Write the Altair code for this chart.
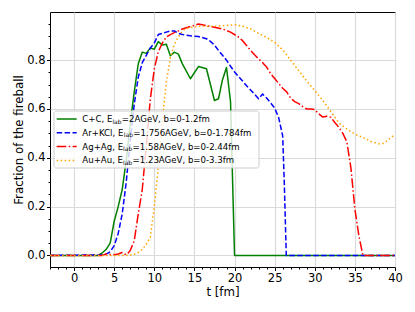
import altair as alt
import pandas as pd

# ---------------- data ----------------
cc_t = [-3, 3.0, 3.5, 4.0, 4.5, 5.0, 5.5, 6.0, 6.5, 7.0, 7.5, 8.0, 8.5, 9.0, 9.5, 10.0,
        10.5, 11.0, 11.5, 12.0, 12.5, 13.0, 13.5, 14.5, 15.5, 16.5, 17.5, 18.0, 18.5,
        19.0, 19.5, 20.0, 40]
cc_v = [0, 0, 0.01, 0.025, 0.05, 0.14, 0.2, 0.27, 0.39, 0.54, 0.67, 0.785, 0.833, 0.828,
        0.85, 0.845, 0.876, 0.862, 0.865, 0.818, 0.833, 0.825, 0.785, 0.724, 0.774, 0.765,
        0.635, 0.642, 0.72, 0.77, 0.63, 0, 0]

ar_t = [-3, 3.5, 4.0, 4.5, 5.0, 5.5, 6.0, 6.5, 7.0, 7.5, 8.0, 8.5, 9.0, 9.5, 10.0, 10.5,
        11.0, 11.5, 12.0, 12.5, 13.0, 13.5, 14.5, 15.5, 16.5, 17.0, 17.5, 18.0, 18.5, 19.0,
        19.5, 20.0, 20.5, 21.0, 21.5, 22.0, 22.5, 23.0, 23.5, 24.0, 24.5, 25.0, 25.5, 26.0,
        26.2, 26.45, 40]
ar_v = [0, 0.002, 0.005, 0.015, 0.04, 0.09, 0.17, 0.3, 0.47, 0.62, 0.73, 0.79, 0.82, 0.85,
        0.87, 0.905, 0.91, 0.915, 0.92, 0.92, 0.91, 0.905, 0.9, 0.897, 0.888, 0.877, 0.862,
        0.84, 0.82, 0.8, 0.775, 0.752, 0.733, 0.715, 0.695, 0.678, 0.66, 0.642, 0.661,
        0.645, 0.625, 0.604, 0.565, 0.49, 0.3, 0, 0]

ag_t = [-3, 3.5, 4.0, 4.5, 5.0, 5.5, 6.0, 6.3, 6.6, 7.0, 7.5, 8.0, 8.5, 9.0, 9.5, 10.0,
        10.5, 11.0, 11.5, 12.0, 12.5, 13.0, 13.5, 14.5, 15.5, 16.5, 17.5, 18.5, 19.5, 20.5,
        21.0, 21.5, 22.0, 22.5, 23.0, 23.5, 24.0, 24.5, 25.0, 25.5, 26.0, 26.5, 27.0, 27.5,
        28.0, 28.5, 29.0, 29.5, 30.0, 30.5, 31.0, 31.5, 32.0, 32.5, 33.0, 33.5, 34.0, 34.5,
        35.0, 35.5, 36.0, 40]
ag_v = [0, 0, 0.006, 0.004, 0.003, 0.006, 0.012, 0.005, 0.004, 0.02, 0.06, 0.17, 0.27,
        0.45, 0.64, 0.765, 0.835, 0.87, 0.895, 0.905, 0.913, 0.92, 0.928, 0.938, 0.948,
        0.942, 0.935, 0.928, 0.915, 0.895, 0.88, 0.86, 0.84, 0.822, 0.805, 0.79, 0.772,
        0.745, 0.725, 0.705, 0.685, 0.67, 0.645, 0.63, 0.622, 0.61, 0.6, 0.6, 0.598, 0.58,
        0.567, 0.57, 0.566, 0.545, 0.525, 0.5, 0.465, 0.36, 0.19, 0.08, 0, 0]

au_t = [-3, 6.5, 7.0, 7.5, 8.0, 8.5, 9.0, 9.5, 10.0, 10.5, 11.0, 11.5, 12.0, 12.5, 13.0,
        13.5, 14.0, 15.0, 16.0, 17.0, 18.0, 19.0, 20.0, 21.0, 22.0, 23.0, 24.0, 25.0, 26.0,
        27.0, 28.0, 29.0, 30.0, 31.0, 32.0, 33.0, 34.0, 35.0, 36.0, 37.0, 38.0, 38.5, 39.0,
        39.5, 40.0]
au_v = [0, 0, 0.002, 0.005, 0.012, 0.025, 0.045, 0.075, 0.2, 0.36, 0.56, 0.71, 0.81, 0.865,
        0.895, 0.92, 0.93, 0.937, 0.94, 0.938, 0.94, 0.943, 0.945, 0.94, 0.928, 0.91, 0.893,
        0.873, 0.842, 0.8, 0.757, 0.715, 0.675, 0.635, 0.59, 0.543, 0.518, 0.497, 0.483,
        0.467, 0.457, 0.459, 0.47, 0.483, 0.495]

# legend texts: (before subscript, subscript, after subscript)
legend_pre = ["C+C, E", "Ar+KCl, E", "Ag+Ag, E", "Au+Au, E"]
legend_sub = ["lab", "lab", "lab", "lab"]
legend_post = ["=2AGeV, b=0-1.2fm", "=1.756AGeV, b=0-1.784fm",
               "=1.58AGeV, b=0-2.44fm", "=1.23AGeV, b=0-3.3fm"]

x_major = [0, 5, 10, 15, 20, 25, 30, 35, 40]
y_major = [0.0, 0.2, 0.4, 0.6, 0.8]

# ---------------- styling ----------------
FONT = "DejaVu Sans"
W, H = 345, 255
colors = ["green", "blue", "red", "orange"]
dashes = [None, [5.5, 2.4], [9.6, 2.4, 1.5, 2.4], [1.5, 2.5]]

x_scale = alt.Scale(domain=[-3, 40], nice=False, zero=False)
y_scale = alt.Scale(domain=[-0.0475, 0.9975], nice=False, zero=False)

x_ticks = list(range(-3, 41))
y_ticks = [round(0.05 * i, 2) for i in range(0, 20)]

x_axis = alt.Axis(
    values=x_ticks,
    labelExpr="datum.value % 5 === 0 ? datum.label : ''",
    tickSize={"condition": {"test": "datum.value % 5 === 0", "value": 3.5}, "value": 2},
    gridOpacity={"condition": {"test": "datum.value % 5 === 0", "value": 1}, "value": 0},
    labelPadding=2,
    titleY=28.5,
    titleBaseline="alphabetic",
)
y_axis = alt.Axis(
    values=y_ticks,
    labelExpr="round(datum.value*20) % 4 === 0 ? format(datum.value, '.1f') : ''",
    tickSize={"condition": {"test": "round(datum.value*20) % 4 === 0", "value": 3.5}, "value": 2},
    gridOpacity={"condition": {"test": "round(datum.value*20) % 4 === 0", "value": 1}, "value": 0},
    labelPadding=1.5,
    titleX=-31.7,
    titleBaseline="middle",
)

series = [(cc_t, cc_v), (ar_t, ar_v), (ag_t, ag_v), (au_t, au_v)]
layers = []
for (t, v), col, dash in zip(series, colors, dashes):
    df = pd.DataFrame({"t": t, "v": v})
    kw = dict(color=col, strokeWidth=1.5, strokeJoin="round", clip=True)
    if dash:
        kw["strokeDash"] = dash
    layers.append(
        alt.Chart(df).mark_line(**kw).encode(
            x=alt.X("t:Q", scale=x_scale, axis=x_axis, title="t [fm]"),
            y=alt.Y("v:Q", scale=y_scale, axis=y_axis, title="Fraction of the fireball"),
        )
    )

# ---------------- legend (drawn manually for the subscript) ----------------
CW = {"A": .684, "C": .698, "E": .632, "G": .775, "K": .656, "V": .684, "a": .613,
      "b": .635, "e": .615, "f": .352, "g": .635, "l": .278, "m": .974, "r": .411,
      "u": .634, " ": .318, "+": .838, ",": .318, "-": .361, ".": .318, "=": .838}


def text_w(s, size):
    return sum(CW.get(c, .636) for c in s) * size


LFS = 8.6
SFS = 6.0
one = pd.DataFrame({"_": [0]})
box = alt.Chart(one).mark_rect(fill="white", fillOpacity=0.8, stroke="#cccccc",
                               strokeWidth=1, cornerRadius=2.5).encode(
    x=alt.value(4), x2=alt.value(209), y=alt.value(99), y2=alt.value(156))
layers.append(box)
row_y0, row_dy = 107.0, 13.8
tx0 = 32.3
for i in range(4):
    ry = row_y0 + i * row_dy
    kw = dict(color=colors[i], strokeWidth=1.5)
    if dashes[i]:
        kw["strokeDash"] = dashes[i]
    layers.append(alt.Chart(one).mark_rule(**kw).encode(
        x=alt.value(6.7), x2=alt.value(26.7), y=alt.value(ry)))
    x1 = tx0
    x2 = x1 + text_w(legend_pre[i], LFS)
    x3 = x2 + text_w(legend_sub[i], SFS) + 0.3
    for s, xx, fs, dy in [(legend_pre[i], x1, LFS, 0), (legend_sub[i], x2, SFS, 2.6),
                          (legend_post[i], x3, LFS, 0)]:
        layers.append(alt.Chart(one).mark_text(
            align="left", baseline="middle", font=FONT, fontSize=fs, color="black", dy=dy
        ).encode(x=alt.value(xx), y=alt.value(ry), text=alt.value(s)))

chart = alt.layer(*layers).properties(
    width=W, height=H,
    autosize=alt.AutoSizeParams(type="none"),
    padding={"left": 42, "top": 4, "right": 12, "bottom": 37},
).configure_view(stroke="black", strokeWidth=1).configure_axis(
    domain=False,
    grid=True,
    gridColor="#dadada",
    gridWidth=1.2,
    tickColor="black",
    tickWidth=1,
    labelFont=FONT,
    labelFontSize=11.5,
    labelColor="black",
    labelFlush=False,
    labelOverlap=False,
    titleFont=FONT,
    titleFontSize=11.8,
    titleFontWeight="normal",
    titleColor="black",
)

chart.save("out.html", embed_options={"renderer": "svg", "actions": False})
